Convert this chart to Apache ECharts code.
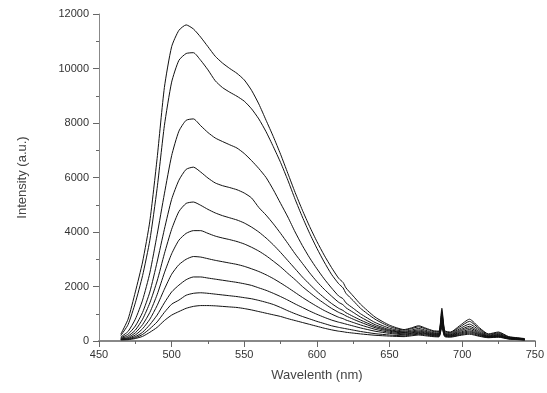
<!DOCTYPE html>
<html>
<head>
<meta charset="utf-8">
<script src="https://cdn.jsdelivr.net/npm/echarts@6/dist/echarts.min.js"></script>
<style>html,body{margin:0;padding:0;background:#fff;}#chart{width:547px;height:393px;}</style>
</head>
<body>
<div id="chart"></div>
<script>
const wavelengths = [465,470,475,480,485,490,495,500,505,510,515,520,525,530,535,540,545,550,555,560,565,570,575,580,585,590,595,600,605,610,615,618,620,625,630,640,650,660,665,670,675,680,684,686,688,692,698,705,712,718,725,732,738,743];

const spectrum1 = [250,800,1800,2900,4400,6700,9300,10800,11400,11600,11450,11150,10800,10450,10200,10000,9820,9580,9200,8700,8100,7500,6850,6150,5450,4800,4200,3650,3150,2700,2300,2150,1950,1650,1350,880,580,420,480,560,470,380,360,1200,380,330,550,800,480,260,330,160,120,90];
const spectrum2 = [200,600,1400,2400,3700,5600,7900,9500,10300,10550,10580,10300,9950,9550,9300,9130,8980,8800,8520,8150,7680,7130,6550,5900,5200,4550,3950,3400,2900,2450,2100,1950,1750,1480,1200,800,530,400,450,520,440,350,340,1100,350,310,500,720,440,240,300,150,110,80];
const spectrum3 = [150,350,800,1500,2500,3900,5400,6800,7700,8100,8150,7900,7650,7450,7320,7200,7080,6880,6620,6330,6000,5550,5050,4550,4000,3500,3050,2650,2280,1950,1650,1550,1400,1200,1000,680,470,360,400,460,390,310,300,1000,310,280,440,620,390,210,270,130,100,70];
const spectrum4 = [120,250,550,1050,1800,2900,4100,5200,5900,6300,6380,6200,5980,5800,5700,5630,5550,5430,5250,4900,4620,4300,3950,3580,3200,2850,2500,2180,1900,1650,1420,1330,1220,1050,880,600,420,330,360,410,350,280,270,900,280,250,390,540,340,190,240,120,90,60];
const spectrum5 = [100,180,400,800,1400,2200,3200,4100,4750,5050,5100,4980,4830,4700,4600,4520,4440,4330,4180,4000,3780,3530,3250,2950,2650,2350,2080,1820,1590,1380,1200,1120,1040,900,770,540,390,310,330,370,320,260,250,820,260,230,350,480,300,170,220,110,80,60];
const spectrum6 = [80,130,300,600,1050,1700,2500,3200,3700,3950,4050,4050,3950,3850,3780,3720,3650,3560,3440,3300,3130,2930,2720,2480,2250,2000,1780,1570,1380,1200,1050,980,920,800,690,490,360,290,300,340,290,240,230,750,240,210,310,420,270,160,200,100,80,50];
const spectrum7 = [70,100,220,450,800,1300,1900,2450,2800,3000,3100,3080,3020,2960,2910,2860,2810,2740,2650,2550,2430,2290,2130,1960,1780,1600,1430,1270,1120,990,870,820,770,680,590,430,320,260,280,310,270,220,210,680,220,190,280,370,240,150,180,90,70,50];
const spectrum8 = [60,80,160,320,600,950,1400,1800,2050,2250,2350,2350,2310,2270,2230,2190,2150,2100,2040,1950,1860,1750,1630,1500,1360,1230,1100,980,870,770,690,650,620,550,480,360,280,230,250,280,250,200,190,620,200,180,250,330,220,140,170,90,70,40];
const spectrum9 = [50,60,120,240,450,700,1050,1350,1500,1680,1750,1770,1750,1720,1690,1660,1630,1590,1550,1490,1420,1340,1230,1110,1000,900,810,720,640,560,500,470,450,400,350,270,220,190,220,250,220,180,170,560,180,160,220,290,190,130,150,80,60,40];
const spectrum10 = [40,50,90,170,320,500,750,950,1080,1200,1270,1300,1300,1290,1270,1250,1230,1190,1140,1080,1020,960,900,820,750,680,610,540,470,410,360,340,320,290,260,210,180,160,190,220,190,160,150,500,160,140,200,250,170,120,140,70,50,30];

const allSpectra = [spectrum1,spectrum2,spectrum3,spectrum4,spectrum5,spectrum6,spectrum7,spectrum8,spectrum9,spectrum10];

const xTitle = 'Wavelenth (nm)';
const yTitle = 'Intensity (a.u.)';

const chart = echarts.init(document.getElementById('chart'), null, {renderer: 'canvas'});
const labelFont = {color: '#333', fontSize: 11, fontFamily: 'Liberation Sans, Arial, sans-serif'};
chart.setOption({
  animation: false,
  backgroundColor: '#fff',
  grid: {left: 99, right: 8, top: 14, bottom: 52},
  xAxis: {
    type: 'value', min: 450, max: 750, interval: 50,
    name: xTitle, nameLocation: 'middle', nameGap: 28,
    nameTextStyle: {color: '#444', fontSize: 13, fontFamily: 'Liberation Sans, Arial, sans-serif'},
    axisLine: {show: true, onZero: false, lineStyle: {color: '#888', width: 2}},
    axisTick: {show: true, inside: false, length: 6, lineStyle: {color: '#666', width: 1}},
    minorTick: {show: true, splitNumber: 2, length: 3, lineStyle: {color: '#666', width: 1}},
    axisLabel: Object.assign({margin: 8, formatter: v => String(v)}, labelFont),
    splitLine: {show: false}
  },
  yAxis: {
    type: 'value', min: 0, max: 12000, interval: 2000,
    name: yTitle, nameLocation: 'middle', nameGap: 70, nameRotate: 90,
    nameTextStyle: {color: '#444', fontSize: 13, fontFamily: 'Liberation Sans, Arial, sans-serif'},
    axisLine: {show: true, lineStyle: {color: '#888', width: 1}},
    axisTick: {show: true, inside: false, length: 6, lineStyle: {color: '#666', width: 1}},
    minorTick: {show: true, splitNumber: 2, length: 3, lineStyle: {color: '#666', width: 1}},
    axisLabel: Object.assign({margin: 10, formatter: v => String(v)}, labelFont),
    splitLine: {show: false}
  },
  series: allSpectra.map((s, i) => ({
    type: 'line',
    name: 'S' + (i + 1),
    data: wavelengths.map((w, j) => [w, s[j]]),
    showSymbol: false,
    smooth: 0.2,
    lineStyle: {color: '#111', width: 1},
    z: 3
  }))
});
</script>
</body>
</html>
